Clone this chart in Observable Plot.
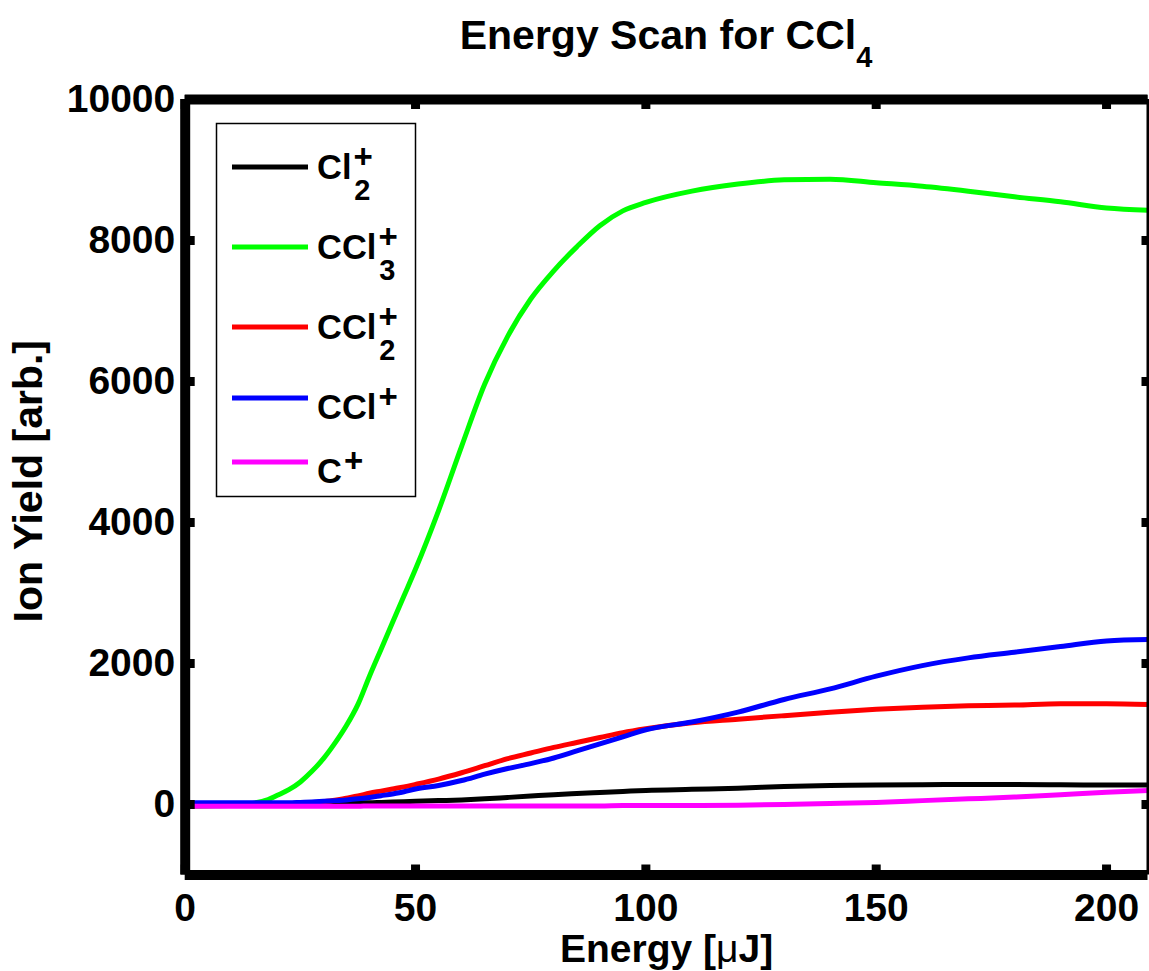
<!DOCTYPE html>
<html><head><meta charset="utf-8">
<script src="https://cdn.jsdelivr.net/npm/d3@7"></script>
<script src="https://cdn.jsdelivr.net/npm/@observablehq/plot@0.6"></script>
<style>
body{margin:0;background:#fff;}
#wrap{position:relative;width:1149px;height:971px;font-family:'Liberation Sans',Arial,sans-serif;}
#title{position:absolute;left:185px;width:962px;top:15px;text-align:center;font-weight:bold;font-size:41px;line-height:1;white-space:nowrap;}
#title sub{font-size:29px;vertical-align:-18px;line-height:1;}
#chart{position:absolute;left:0;top:80px;}
#legend{position:absolute;left:0;top:0;pointer-events:none;}
</style></head>
<body><div id="wrap"><div id="title">Energy Scan for CCl<sub>4</sub></div><div id="chart"></div><svg id="legend" width="1149" height="971"></svg></div>
<script>
// ---- data ----
const energy = [0,5,10,15,18,20,22.5,25,27.5,30,32.5,35,37.5,40,42.5,45,47.5,50,55,60,65,70,75,80,85,90,95,100,110,120,130,140,150,160,170,180,190,200,209];
const cl2Plus  = [15,15,15,15,15,15,15,15,15,20,20,20,25,25,30,35,40,45,55,65,80,100,120,140,155,170,185,200,215,230,255,270,275,280,285,285,280,275,275];
const ccl3Plus = [-30,-20,-10,20,70,130,210,320,470,650,870,1120,1420,1820,2200,2580,2960,3340,4170,5080,5960,6640,7170,7570,7910,8210,8420,8540,8700,8800,8860,8870,8820,8770,8700,8620,8550,8460,8430];
const ccl2Plus = [10,10,10,10,10,15,15,20,25,40,60,90,120,160,190,220,250,285,360,450,550,650,730,810,880,950,1020,1075,1160,1210,1260,1310,1350,1380,1400,1410,1430,1430,1420];
const cclPlus  = [25,25,25,25,25,25,25,30,35,45,55,65,80,100,125,150,180,220,270,340,430,510,580,660,760,860,960,1060,1170,1310,1490,1640,1820,1970,2080,2160,2240,2320,2340];
const cPlus    = [-25,-25,-25,-25,-25,-25,-25,-25,-25,-25,-25,-25,-25,-20,-20,-20,-20,-20,-20,-20,-20,-20,-20,-20,-20,-20,-15,-15,-15,-10,0,15,30,55,80,105,140,175,200];

const seriesNames  = ["Cl2+","CCl3+","CCl2+","CCl+","C+"];
const seriesColors = ["#000000","#00ff00","#ff0000","#0000ff","#ff00ff"];
const legendBase = ["Cl","CCl","CCl","CCl","C"];
const legendSup  = ["+","+","+","+","+"];
const legendSub  = ["2","3","2","",""];

const xTicks = [0,50,100,150,200];
const yTicks = [0,2000,4000,6000,8000,10000];
const xDomain = [0,209];
const yDomain = [-1000,10000];
const xLabel = "Energy [μJ]";
const yLabel = "Ion Yield [arb.]";

// ---- table ----
const values = [cl2Plus, ccl3Plus, ccl2Plus, cclPlus, cPlus];
const rows = seriesNames.flatMap((name,i) => energy.map((e,j) => ({series:name, energy:e, ionYield: values[i][j]})));

const FONT = "'Liberation Sans', Arial, Helvetica, sans-serif";
const W = 1149, H = 891, mL = 184.7, mR = 1.5, mT = 19, mB = 96.5;
const plotW = W - mL - mR, plotH = H - mT - mB;

const plot = Plot.plot({
  width: W, height: H,
  marginLeft: mL, marginRight: mR, marginTop: mT, marginBottom: mB,
  x: {domain: xDomain},
  y: {domain: yDomain},
  color: {domain: seriesNames, range: seriesColors},
  style: {fontFamily: FONT, fontWeight: "bold", fontSize: "39px", background: "white", overflow: "visible", color: "black"},
  marks: [
    Plot.line(rows, {x: "energy", y: "ionYield", z: "series", stroke: "series", strokeWidth: 5, curve: "monotone-x"}),
    Plot.axisX(xTicks, {anchor: "bottom", tickSize: 0, tickPadding: 18, tickFormat: d3.format("d"), label: null, fontSize: 39, fontWeight: "bold"}),
    Plot.axisY(yTicks, {anchor: "left", tickSize: 0, tickPadding: 10, tickFormat: d3.format("d"), label: null, fontSize: 39, fontWeight: "bold"}),
    // inward ticks
    Plot.ruleX(xTicks, {x: d => d, insetTop: plotH - 10, strokeWidth: 9}),
    Plot.ruleX(xTicks, {x: d => d, insetBottom: plotH - 10, strokeWidth: 9}),
    Plot.ruleY(yTicks, {y: d => d, insetRight: plotW - 10, strokeWidth: 9}),
    Plot.ruleY(yTicks, {y: d => d, insetLeft: plotW - 6, strokeWidth: 9}),
    // frame
    Plot.ruleY([yDomain[1]], {strokeWidth: 10}),
    Plot.ruleY([yDomain[0]], {strokeWidth: 10}),
    Plot.ruleX([xDomain[0]], {strokeWidth: 10}),
    Plot.ruleX([xDomain[1]], {strokeWidth: 3}),
    // axis titles
    Plot.text([xLabel], {text: d => d, frameAnchor: "bottom", lineAnchor: "top", dy: 59.5, fontSize: 39, fontWeight: "bold"}),
    Plot.text([yLabel], {text: d => d, frameAnchor: "left", textAnchor: "middle", rotate: -90, lineAnchor: "middle", dx: -156, dy: -6, fontSize: 41, fontWeight: "bold"})
  ]
});
document.getElementById("chart").appendChild(plot);

// μ in a lighter weight, as in the reference
d3.select(plot).selectAll("text").filter(function(){ return this.textContent === xLabel; }).each(function(){
  const t = d3.select(this); t.text(null);
  t.append("tspan").text("Energy [");
  t.append("tspan").attr("font-weight","normal").text("μ");
  t.append("tspan").text("J]");
});

// ---- legend ----
const leg = d3.select("#legend");
leg.append("rect").attr("x",216.5).attr("y",123.5).attr("width",199).attr("height",373)
  .attr("fill","white").attr("stroke","black").attr("stroke-width",1.5);
let base = 179;
seriesNames.forEach((n,i) => {
  const hasSub = legendSub[i] !== "";
  const ly = base - (hasSub ? 12 : 21);
  leg.append("line").attr("x1",232).attr("x2",308).attr("y1",ly).attr("y2",ly)
    .attr("stroke",seriesColors[i]).attr("stroke-width",5);
  const t = leg.append("text").attr("x",317).attr("y",base)
    .attr("font-family",FONT).attr("font-weight","bold").attr("font-size",34.5).attr("fill","black");
  t.append("tspan").text(legendBase[i]);
  t.append("tspan").attr("font-size",33).attr("dx",2).attr("dy",-11).text(legendSup[i]);
  if (hasSub) t.append("tspan").attr("font-size",29).attr("dx",-18.5).attr("dy",32).text(legendSub[i]);
  base += hasSub ? 80 : 64;
});
</script>
</body></html>
